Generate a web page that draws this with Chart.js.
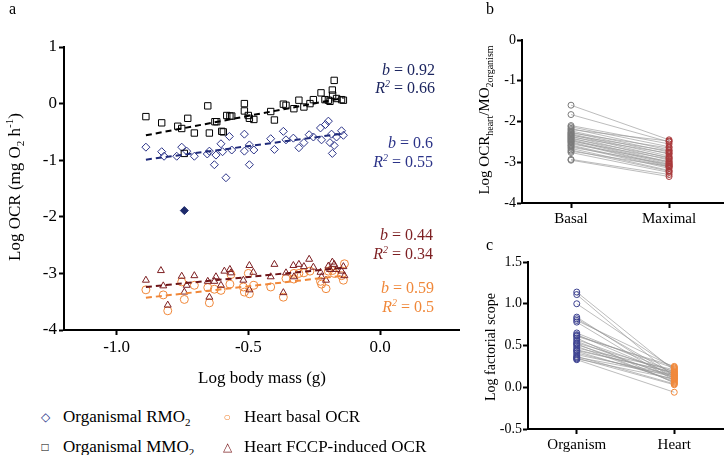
<!DOCTYPE html>
<html>
<head>
<meta charset="utf-8">
<script src="https://cdn.jsdelivr.net/npm/chart.js@4"></script>
<style>
  body { margin: 0; width: 728px; height: 455px; position: relative; background: #fff; overflow: hidden;
         font-family: "Liberation Serif", "Times New Roman", serif; }
  canvas { position: absolute; }
  .t { position: absolute; white-space: nowrap; color: #000; line-height: 1; }
  .rot { transform: translate(-50%, -50%) rotate(-90deg); }
  .ann { text-align: right; font-size: 16px; }
  .leg { font-size: 17px; }
  .mk { position: absolute; font-size: 12px; transform: translate(-50%, -50%); }
</style>
</head>
<body>
<canvas id="ca" width="470" height="395" style="left:0;top:0"></canvas>
<canvas id="cb" width="248" height="235" style="left:480px;top:0"></canvas>
<canvas id="cc" width="248" height="230" style="left:480px;top:225px"></canvas>

<div class="t" style="left:9px;top:1px;font-size:16px">a</div>
<div class="t" style="left:486px;top:1px;font-size:16px">b</div>
<div class="t" style="left:486px;top:237px;font-size:16px">c</div>

<div class="t rot" style="left:15px;top:187px;font-size:17px">Log OCR (mg O<sub style="font-size:11px">2</sub> h<sup style="font-size:11px">-1</sup>)</div>
<div class="t" style="left:262px;top:377px;font-size:17px;transform:translate(-50%,-50%)">Log body mass (g)</div>
<div class="t rot" style="left:486px;top:120px;font-size:15px">Log OCR<sub style="font-size:10px">heart</sub>/MO<sub style="font-size:10px">2organism</sub></div>
<div class="t rot" style="left:491px;top:347px;font-size:14px">Log factorial scope</div>

<div class="t ann" style="right:293px;top:62px;color:#1d2660"><i>b</i> = 0.92</div>
<div class="t ann" style="right:293px;top:79px;color:#1d2660"><i>R<sup style="font-size:10px">2</sup></i> = 0.66</div>
<div class="t ann" style="right:295px;top:135px;color:#2b3388"><i>b</i> = 0.6</div>
<div class="t ann" style="right:295px;top:153px;color:#2b3388"><i>R<sup style="font-size:10px">2</sup></i> = 0.55</div>
<div class="t ann" style="right:295px;top:227px;color:#7d1f22"><i>b</i> = 0.44</div>
<div class="t ann" style="right:295px;top:245px;color:#7d1f22"><i>R<sup style="font-size:10px">2</sup></i> = 0.34</div>
<div class="t ann" style="right:294px;top:280px;color:#f0883a"><i>b</i> = 0.59</div>
<div class="t ann" style="right:294px;top:298px;color:#f0883a"><i>R<sup style="font-size:10px">2</sup></i> = 0.5</div>

<div class="mk" style="left:45px;top:417px;color:#2b3388">&#9671;</div>
<div class="t leg" style="left:63px;top:408px">Organismal RMO<sub style="font-size:11px">2</sub></div>
<div class="mk" style="left:45px;top:447px;color:#000">&#9633;</div>
<div class="t leg" style="left:63px;top:438px">Organismal MMO<sub style="font-size:11px">2</sub></div>
<div class="mk" style="left:227px;top:417px;color:#f0883a">&#9675;</div>
<div class="t leg" style="left:244px;top:408px">Heart basal OCR</div>
<div class="mk" style="left:227px;top:447px;color:#7d1f22">&#9651;</div>
<div class="t leg" style="left:244px;top:438px">Heart FCCP-induced OCR</div>

<script>
// panel a: log body mass vs log OCR
var rmoX = [-0.889,-0.829,-0.820,-0.772,-0.753,-0.734,-0.705,-0.656,-0.648,-0.629,-0.623,-0.604,-0.598,-0.585,-0.572,-0.563,-0.515,-0.515,-0.496,-0.496,-0.479,-0.415,-0.401,-0.367,-0.357,-0.329,-0.308,-0.289,-0.269,-0.253,-0.226,-0.222,-0.207,-0.196,-0.190,-0.184,-0.181,-0.174,-0.165,-0.146,-0.139];
var rmoY = [-0.77,-0.85,-0.93,-0.93,-0.77,-0.84,-0.93,-0.89,-0.84,-1.08,-0.91,-0.71,-0.85,-1.31,-0.58,-0.82,-0.54,-0.84,-0.73,-1.08,-0.82,-0.62,-0.81,-0.49,-0.64,-0.61,-0.78,-0.69,-0.55,-0.59,-0.43,-0.64,-0.37,-0.31,-0.69,-0.54,-0.88,-0.74,-0.59,-0.48,-0.56];
var outlierX = [-0.743];
var outlierY = [-1.89];
var mmoX = [-0.889,-0.829,-0.768,-0.753,-0.743,-0.730,-0.705,-0.654,-0.648,-0.627,-0.620,-0.601,-0.595,-0.582,-0.570,-0.563,-0.515,-0.515,-0.500,-0.496,-0.479,-0.415,-0.401,-0.367,-0.357,-0.327,-0.308,-0.289,-0.266,-0.253,-0.224,-0.209,-0.196,-0.190,-0.181,-0.180,-0.174,-0.165,-0.146,-0.139];
var mmoY = [-0.23,-0.34,-0.40,-0.44,-0.88,-0.26,-0.52,-0.04,-0.52,-0.32,-0.32,-0.49,-0.50,-0.21,-0.22,-0.22,0.00,-0.13,-0.21,-0.26,-0.28,-0.14,-0.29,-0.01,-0.03,-0.09,0.06,-0.06,0.00,0.07,0.19,0.07,0.06,0.04,0.24,0.15,0.41,0.09,0.07,0.06];
var fccpX = [-0.889,-0.832,-0.823,-0.806,-0.753,-0.743,-0.734,-0.705,-0.654,-0.648,-0.629,-0.623,-0.604,-0.591,-0.570,-0.566,-0.519,-0.496,-0.481,-0.496,-0.415,-0.401,-0.367,-0.357,-0.329,-0.327,-0.308,-0.289,-0.269,-0.253,-0.226,-0.222,-0.205,-0.196,-0.190,-0.181,-0.174,-0.165,-0.146,-0.139,-0.135];
var fccpY = [-3.12,-2.95,-3.22,-3.56,-3.05,-3.33,-3.21,-3.04,-3.14,-3.42,-3.14,-3.06,-3.21,-2.96,-2.93,-2.99,-3.12,-2.86,-2.98,-3.29,-3.06,-2.84,-3.34,-2.99,-2.86,-3.06,-2.84,-2.88,-2.75,-2.89,-2.98,-3.06,-3.12,-2.87,-2.93,-2.80,-2.84,-2.93,-2.96,-2.88,-3.04];
var basalX = [-0.889,-0.823,-0.806,-0.753,-0.743,-0.705,-0.654,-0.648,-0.629,-0.604,-0.570,-0.566,-0.519,-0.515,-0.500,-0.496,-0.479,-0.415,-0.367,-0.357,-0.327,-0.327,-0.308,-0.289,-0.266,-0.226,-0.222,-0.205,-0.196,-0.181,-0.174,-0.146,-0.139,-0.135];
var basalY = [-3.29,-3.38,-3.66,-3.15,-3.46,-3.21,-3.25,-3.52,-3.28,-3.30,-3.19,-3.02,-3.24,-3.33,-3.00,-3.36,-3.21,-3.24,-3.42,-3.09,-3.00,-3.10,-3.00,-2.99,-2.96,-3.14,-3.19,-3.27,-2.96,-2.95,-3.00,-3.04,-3.12,-2.83];
// fitted lines, end points
var fitX = [-0.889, -0.139];
var mmoFit = [-0.56, 0.10];
var rmoFit = [-0.99, -0.53];
var fccpFit = [-3.24, -2.90];
var basalFit = [-3.43, -3.04];
var aXTicks = [-1.0, -0.5, 0.0];
var aYTicks = [1, 0, -1, -2, -3, -4];

// panel b: basal vs maximal
var bCats = ["Basal", "Maximal"];
var bBasal = [-1.60,-1.83,-2.10,-2.13,-2.17,-2.20,-2.23,-2.26,-2.28,-2.30,-2.32,-2.34,-2.36,-2.38,-2.40,-2.42,-2.44,-2.46,-2.48,-2.50,-2.52,-2.55,-2.58,-2.60,-2.63,-2.66,-2.70,-2.73,-2.76,-2.93,-2.95];
var bMax = [-2.45,-2.50,-2.55,-2.62,-2.70,-2.48,-2.75,-2.80,-2.65,-2.85,-2.90,-2.72,-2.95,-2.78,-3.00,-2.88,-3.02,-3.05,-2.92,-3.08,-3.10,-2.98,-3.12,-3.15,-3.05,-3.20,-3.22,-3.10,-3.25,-3.30,-3.35];

// panel c: organism vs heart
var cCats = ["Organism", "Heart"];
var cOrg = [1.14,1.11,1.00,0.84,0.82,0.80,0.78,0.65,0.63,0.61,0.59,0.57,0.55,0.53,0.51,0.49,0.47,0.45,0.43,0.41,0.39,0.37,0.35,0.34,0.33,0.36,0.44,0.52,0.62];
var cHeart = [0.20,0.12,0.22,0.10,0.15,0.24,0.08,0.18,0.14,0.25,0.05,0.16,0.11,0.19,0.13,0.07,0.21,0.17,0.09,0.12,0.15,0.04,0.03,0.10,-0.06,0.14,0.18,0.06,0.23];

function zip(xs, ys) {
  var out = [];
  for (var i = 0; i < xs.length; i++) out.push({x: xs[i], y: ys[i]});
  return out;
}

function axis(size, extra) {
  var o = {
    grid: { drawOnChartArea: false, drawTicks: true, tickLength: 5, tickColor: "#000", tickWidth: 2 },
    border: { color: "#000", width: 2 },
    ticks: { color: "#000", padding: 2, font: { family: "Liberation Serif", size: size } }
  };
  for (var k in extra) o[k] = extra[k];
  return o;
}

function pts(data, color, style, fill, r) {
  return { data: data, pointStyle: style, pointRadius: r, borderColor: color, pointBorderWidth: 1,
           backgroundColor: fill, showLine: false, order: 0 };
}
function fit(ys, color) {
  return { data: zip(fitX, ys), showLine: true, borderColor: color, borderWidth: 2, borderDash: [6, 4],
           pointRadius: 0, order: 0 };
}

Chart.defaults.animation = false;
Chart.defaults.plugins.legend.display = false;
Chart.defaults.plugins.tooltip.enabled = false;

new Chart(document.getElementById("ca"), {
  type: "scatter",
  data: {
    datasets: [
      fit(mmoFit, "#000"),
      fit(rmoFit, "#1f2a7a"),
      fit(fccpFit, "#6e1518"),
      fit(basalFit, "#f0883a"),
      pts(zip(mmoX, mmoY), "#000", "rect", "rgba(0,0,0,0)", 4.5),
      pts(zip(rmoX, rmoY), "#2b3388", "rectRot", "rgba(0,0,0,0)", 4),
      pts(zip(outlierX, outlierY), "#1d2a6b", "rectRot", "#1d2a6b", 4),
      pts(zip(fccpX, fccpY), "#7d1f22", "triangle", "rgba(0,0,0,0)", 4),
      pts(zip(basalX, basalY), "#f0883a", "circle", "rgba(0,0,0,0)", 4)
    ]
  },
  options: {
    responsive: false,
    layout: { padding: { top: 47, right: 11, left: 0, bottom: 0 } },
    scales: {
      x: axis(17, {
        type: "linear", min: -1.2, max: 0.3,
        afterBuildTicks: function(s) { s.ticks = aXTicks.map(function(v) { return {value: v}; }); },
        ticks: { color: "#000", padding: 2, font: { family: "Liberation Serif", size: 17 },
                 callback: function(v) { return v.toFixed(1); } },
        afterFit: function(s) { s.height = 65; }
      }),
      y: axis(17, {
        min: -4, max: 1,
        afterBuildTicks: function(s) { s.ticks = aYTicks.map(function(v) { return {value: v}; }); },
        afterFit: function(s) { s.width = 64; }
      })
    }
  }
});

function pairChart(id, cats, left, right, leftColor, rightColor, yMin, yMax, yStep, yDigits, xMax, yWidth, xHeight, padTop) {
  var sets = [];
  for (var i = 0; i < left.length; i++) {
    sets.push({ data: [{x: 0, y: left[i]}, {x: 1, y: right[i]}], showLine: true, borderColor: "rgba(150,150,150,0.8)",
                borderWidth: 0.8, pointRadius: 0, order: 1 });
  }
  sets.push(pts(left.map(function(v) { return {x: 0, y: v}; }), leftColor, "circle", "rgba(0,0,0,0)", 3));
  sets.push(pts(right.map(function(v) { return {x: 1, y: v}; }), rightColor, "circle", "rgba(0,0,0,0)", 3));
  var yt = [];
  for (var v = yMax; v >= yMin - 1e-9; v -= yStep) yt.push({value: Math.round(v * 100) / 100});
  new Chart(document.getElementById(id), {
    type: "scatter",
    data: { datasets: sets },
    options: {
      responsive: false,
      layout: { padding: { top: padTop, right: 0, left: 0, bottom: 0 } },
      scales: {
        x: axis(15, {
          type: "linear", min: -0.5, max: xMax,
          afterBuildTicks: function(s) { s.ticks = [{value: 0}, {value: 1}]; },
          ticks: { color: "#000", padding: 2, font: { family: "Liberation Serif", size: 15 },
                   callback: function(v) { return cats[v]; } },
          afterFit: function(s) { s.height = xHeight; }
        }),
        y: axis(14, {
          min: yMin, max: yMax,
          afterBuildTicks: function(s) { s.ticks = yt; },
          ticks: { color: "#000", padding: 1, font: { family: "Liberation Serif", size: 14 },
                   callback: function(v) { return yDigits ? v.toFixed(yDigits) : String(v); } },
          afterFit: function(s) { s.width = yWidth; }
        })
      }
    }
  });
}

pairChart("cb", bCats, bBasal, bMax, "#7a7a7a", "#a8383a", -4, 0, 1, 0, 1.55, 42, 32, 40);
pairChart("cc", cCats, cOrg, cHeart, "#3c4190", "#f0883a", -0.5, 1.5, 0.5, 1, 1.5, 48, 26, 37);
</script>
</body>
</html>
